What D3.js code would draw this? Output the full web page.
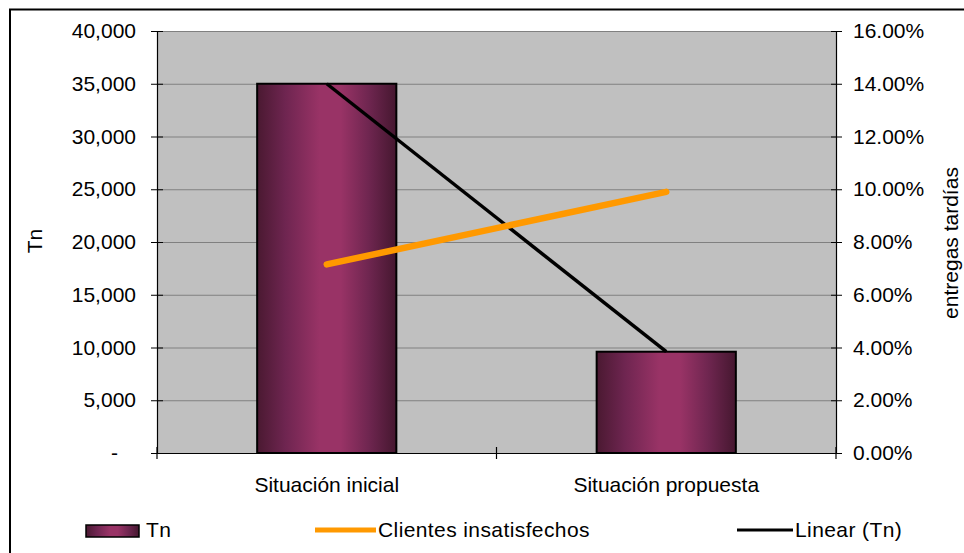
<!DOCTYPE html>
<html>
<head>
<meta charset="utf-8">
<script src="https://cdn.jsdelivr.net/npm/d3@7"></script>
<style>
  html, body { margin: 0; padding: 0; background: #fff; }
  svg { display: block; font-family: "Liberation Sans", Arial, sans-serif; }
</style>
</head>
<body>
<svg id="chart" width="964" height="553"></svg>
<script>
// Categories and series
const categories = ["Situación inicial", "Situación propuesta"];
const tonnage = [35000, 9600];                 // Tn (bars, left axis)
const unhappyClients = [0.0715, 0.099];        // Clientes insatisfechos (right axis)
const leftTicks = [0, 5000, 10000, 15000, 20000, 25000, 30000, 35000, 40000];
const rightTicks = [0, 0.02, 0.04, 0.06, 0.08, 0.10, 0.12, 0.14, 0.16];
const legendLabels = ["Tn", "Clientes insatisfechos", "Linear (Tn)"];

const FONT = "Liberation Sans, Arial, sans-serif";
const FS = 21;

const svg = d3.select("#chart");
const plot = { left: 157, right: 836, top: 31, bottom: 453 };

const x = d3.scaleBand().domain(categories)
  .range([plot.left, plot.right]).paddingInner(0.59).paddingOuter(0.295);
const xMid = d3.scalePoint().domain(categories)
  .range([plot.left, plot.right]).padding(0.5);
const yL = d3.scaleLinear().domain([0, 40000]).range([plot.bottom, plot.top]);
const yR = d3.scaleLinear().domain([0, 0.16]).range([plot.bottom, plot.top]);

// Outer frame
svg.append("rect").attr("x", 10).attr("y", 9.5).attr("width", 1000).attr("height", 600)
  .attr("fill", "none").attr("stroke", "#000").attr("stroke-width", 2);

// Bar gradient
const defs = svg.append("defs");
const grad = defs.append("linearGradient").attr("id", "barGrad")
  .attr("x1", "0%").attr("x2", "100%").attr("y1", "0%").attr("y2", "0%");
[[0, "#4a1931"], [0.2, "#6e2550"], [0.45, "#993366"], [0.6, "#993366"], [0.8, "#6f2650"], [1, "#45172f"]]
  .forEach(([o, c]) => grad.append("stop").attr("offset", o).attr("stop-color", c));

// Plot background
svg.append("rect").attr("x", plot.left).attr("y", plot.top)
  .attr("width", plot.right - plot.left).attr("height", plot.bottom - plot.top)
  .attr("fill", "#c0c0c0");

// Gridlines
svg.append("g").selectAll("line").data(leftTicks.filter(d => d > 0)).join("line")
  .attr("x1", plot.left).attr("x2", plot.right)
  .attr("y1", d => yL(d) + 0.5).attr("y2", d => yL(d) + 0.5)
  .attr("stroke", "#808080").attr("stroke-width", 1.2);

// Bars
svg.append("g").selectAll("rect").data(categories).join("rect")
  .attr("x", d => x(d)).attr("width", x.bandwidth())
  .attr("y", (d, i) => yL(tonnage[i]))
  .attr("height", (d, i) => plot.bottom - yL(tonnage[i]))
  .attr("fill", "url(#barGrad)").attr("stroke", "#000").attr("stroke-width", 2);

// Left axis
const leftAxis = d3.axisLeft(yL).tickValues(leftTicks)
  .tickFormat(d => d === 0 ? "-" : d3.format(",")(d)).tickSize(6).tickPadding(15);
const gL = svg.append("g").attr("transform", `translate(${plot.left},0)`).call(leftAxis);
gL.select(".domain").attr("stroke", "#000").attr("stroke-width", 1.2);
gL.selectAll(".tick line").attr("x2", -6).attr("x1", 6).attr("stroke", "#000");
gL.selectAll(".tick text").attr("font-size", FS).attr("fill", "#000").attr("font-family", FONT);
gL.selectAll(".tick").filter(d => d === 0).select("text").attr("dx", -18);

// Right axis
const rightAxis = d3.axisRight(yR).tickValues(rightTicks)
  .tickFormat(d3.format(".2%")).tickSize(6).tickPadding(11);
const gR = svg.append("g").attr("transform", `translate(${plot.right},0)`).call(rightAxis);
gR.select(".domain").attr("stroke", "#000").attr("stroke-width", 1.2);
gR.selectAll(".tick line").attr("x1", -5).attr("x2", 6).attr("stroke", "#000");
gR.selectAll(".tick text").attr("font-size", FS).attr("fill", "#000").attr("font-family", FONT);

// Bottom axis
const bottomAxis = d3.axisBottom(x).tickSize(0).tickPadding(24);
const gB = svg.append("g").attr("transform", `translate(0,${plot.bottom})`).call(bottomAxis);
gB.select(".domain").attr("stroke", "#000").attr("stroke-width", 1.2);
gB.selectAll(".tick text").attr("font-size", FS).attr("fill", "#000").attr("font-family", FONT);
// category separators
const seps = [plot.left, (x(categories[0]) + x.bandwidth() + x(categories[1])) / 2, plot.right];
svg.append("g").selectAll("line").data(seps).join("line")
  .attr("x1", d => d).attr("x2", d => d)
  .attr("y1", plot.bottom - 6).attr("y2", plot.bottom + 6)
  .attr("stroke", "#000").attr("stroke-width", 1.2);

// Linear trend of Tn (least squares over category index)
const n = tonnage.length;
const xs = d3.range(n);
const mx = d3.mean(xs), my = d3.mean(tonnage);
const slope = d3.sum(xs, (v, i) => (v - mx) * (tonnage[i] - my)) / d3.sum(xs, v => (v - mx) ** 2);
const icpt = my - slope * mx;
const trend = xs.map(i => [xMid(categories[i]), yL(icpt + slope * i)]);
svg.append("path").attr("d", d3.line()(trend))
  .attr("fill", "none").attr("stroke", "#000").attr("stroke-width", 3.5);

// Clientes insatisfechos line
svg.append("path")
  .attr("d", d3.line()(categories.map((c, i) => [xMid(c), yR(unhappyClients[i])])))
  .attr("fill", "none").attr("stroke", "#ff9900").attr("stroke-width", 6.5)
  .attr("stroke-linecap", "round");

// Axis titles
svg.append("text").attr("transform", "translate(42,241) rotate(-90)")
  .attr("text-anchor", "middle").attr("font-size", FS).text("Tn");
svg.append("text").attr("transform", "translate(958,243) rotate(-90)")
  .attr("text-anchor", "middle").attr("font-size", FS).text("entregas tardías");

// Legend
const lg = svg.append("g").attr("font-size", FS).attr("letter-spacing", 0.4);
lg.append("rect").attr("x", 86).attr("y", 525).attr("width", 53).attr("height", 12)
  .attr("fill", "url(#barGrad)").attr("stroke", "#000").attr("stroke-width", 1.5);
lg.append("text").attr("x", 146).attr("y", 537).text(legendLabels[0]);
lg.append("line").attr("x1", 315).attr("x2", 376).attr("y1", 530).attr("y2", 530)
  .attr("stroke", "#ff9900").attr("stroke-width", 5);
lg.append("text").attr("x", 378).attr("y", 537).text(legendLabels[1]);
lg.append("line").attr("x1", 737).attr("x2", 793).attr("y1", 530).attr("y2", 530)
  .attr("stroke", "#000").attr("stroke-width", 3);
lg.append("text").attr("x", 795).attr("y", 537).text(legendLabels[2]);
</script>
</body>
</html>
